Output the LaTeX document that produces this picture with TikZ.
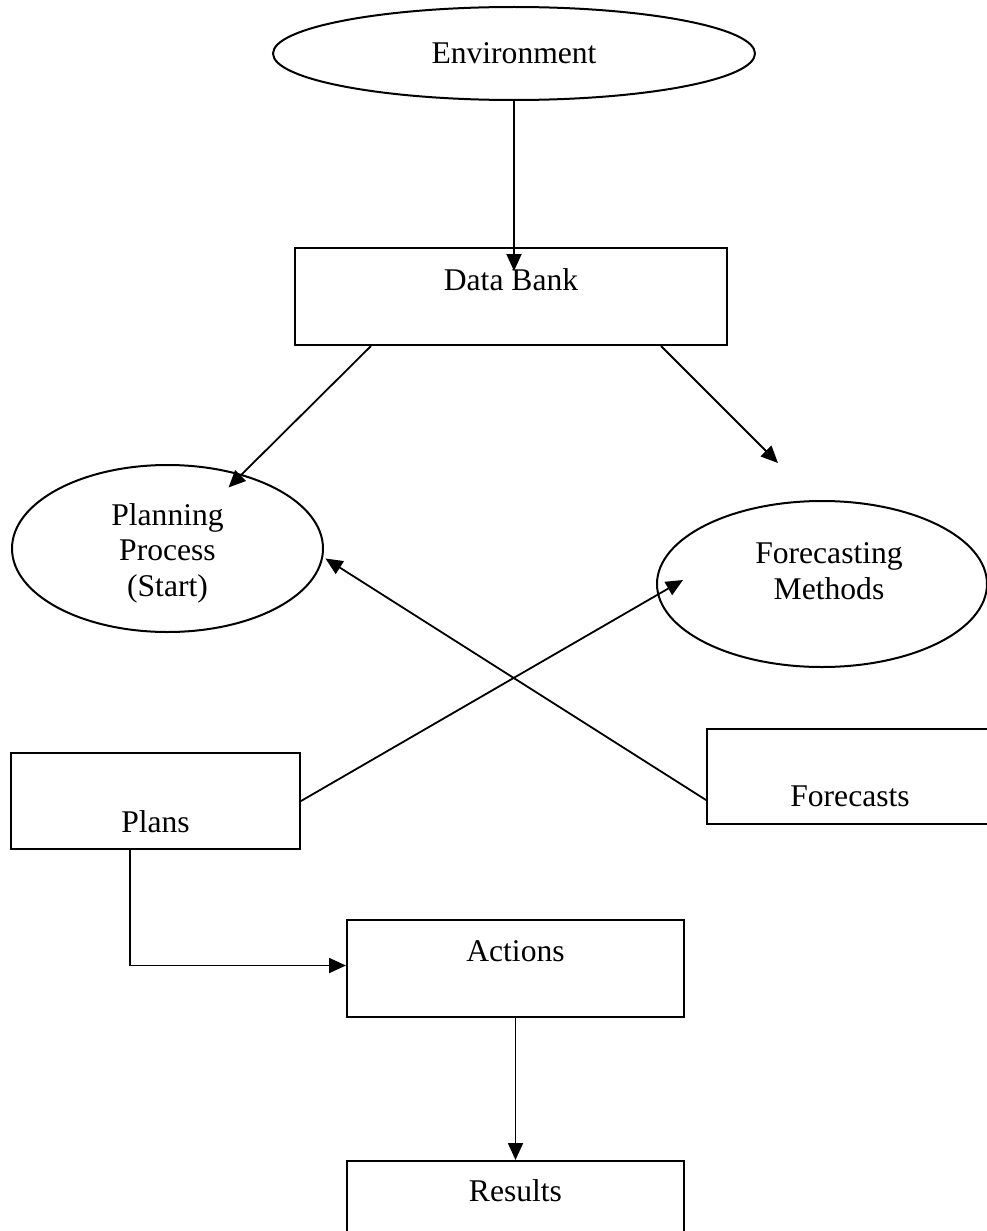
\documentclass[tikz,border=0pt]{standalone}
\usepackage{fontspec}
\setmainfont{Liberation Serif}
\usetikzlibrary{arrows.meta,calc,shapes.geometric}
\begin{document}
\begin{tikzpicture}[x=1pt,y=-1pt,
  every node/.style={font=\fontsize{31.6}{35.5}\selectfont},
  box/.style={draw, rectangle, line width=2pt, inner sep=0pt},
  oval/.style={draw, ellipse, line width=2pt, inner sep=0pt},
  lbl/.style={anchor=center, align=center},
  arr/.style={line width=1.8pt, -{Triangle[length=17pt,width=15pt]}}]
\useasboundingbox (0,0) rectangle (987,1231);
\clip (0,0) rectangle (987,1231);

\node[oval, minimum width=482pt, minimum height=93pt] (env) at (514,53.5) {Environment};
\node[box, minimum width=432pt, minimum height=97pt,
  label={[lbl,yshift=-33pt]above:Data Bank}] (db) at (511,296.5) {};
\node[oval, minimum width=311pt, minimum height=167pt,
  label={[lbl,yshift=-89pt]above:Planning\\Process\\(Start)}] (pp) at (167.5,548.5) {};
\node[oval, minimum width=330pt, minimum height=166pt,
  label={[lbl,yshift=-71pt,xshift=7pt]above:Forecasting\\Methods}] (fm) at (822,584) {};
\node[box, minimum width=289pt, minimum height=96pt,
  label={[lbl,yshift=28pt]below:Plans}] (plans) at (155.5,801) {};
\node[box, minimum width=286pt, minimum height=95pt,
  label={[lbl,yshift=29pt]below:Forecasts}] (fc) at (850,776.5) {};
\node[box, minimum width=337pt, minimum height=97pt,
  label={[lbl,yshift=-32pt]above:Actions}] (act) at (515.5,968.5) {};
\node[box, minimum width=337pt, minimum height=97pt,
  label={[lbl,yshift=-31pt]above:Results}] (res) at (515.5,1209.5) {};

\draw[arr] (env.south) -- ($(env.south |- db.north)+(0,24)$);
\draw[arr] ($(db.south west)+(77,0)$) -- ($(pp.center)+(61,-61)$);
\draw[arr] ($(db.south east)+(-67,0)$) -- ($(fm.center)+(-44,-121)$);
\draw[arr] ($(fc.west)+(0,23.5)$) -- ($(pp.center)+(158,10)$);
\draw[arr] (plans.east) -- ($(fm.center)+(-139,-4)$);
\draw[arr] ($(plans.south west)+(120,0)$) |- ($(act.west)+(0,-3)$);
\draw[arr] (act.south) -- (res.north);
\end{tikzpicture}
\end{document}
